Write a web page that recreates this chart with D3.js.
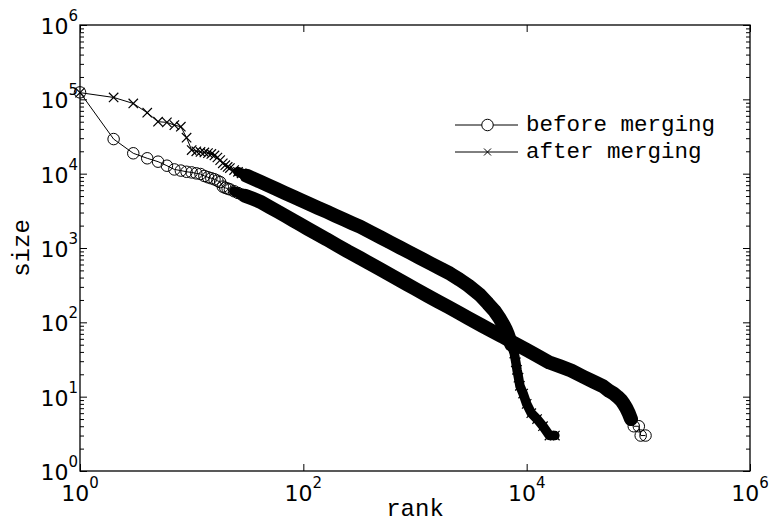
<!DOCTYPE html>
<html><head><meta charset="utf-8">
<script src="https://cdn.jsdelivr.net/npm/d3@7"></script>
<style>body{margin:0;background:#fff}</style>
</head><body>
<svg id="c" width="771" height="525"></svg>
<script>
// ---- data ----
const beforeRank = [1,2,3,4,5,6,7,8,9,10,11,12,13,14,15,16,17,18,19,20,21,22,24,26,28,30,35,41,50,60,70,81,93,110,130,162,200,250,322,400,500,600,734,850,1000,1300,1600,2000,2500,3000,4000,5000,6000,7000,8500,10000,12500,16000,20000,25000,32000,40000,48000,55000,60000,65000,70000,74000,78000,82000,86000,91000,101000,105000,116000];
const beforeSize = [124000,29200,18800,16100,14500,12800,11400,11000,10600,10400,10100,9890,9310,8940,8670,8400,8040,7700,6700,6450,6300,6150,5800,5500,5250,5060,4620,4200,3560,3050,2670,2360,2100,1810,1570,1310,1090,900,733,611,507,436,368,325,283,227,191,160,133,114,90,75,65,57,48.6,42.5,35.3,28.8,25.5,22.5,18.6,15.8,13.9,11.9,11,10,9,8,7,6,5,4,4,3,3];
const afterRank = [1,2,3,4,5,6,7,8,9,10,11,12,13,14,15,16,17,18,19,20,21,22,24,26,28,31,36,41,48,57,68,81,96,114,135,162,195,230,275,322,400,500,600,734,900,1100,1400,1700,2057,2500,3000,3820,4500,5200,5770,6200,6500,6800,7300,7750,8000,8200,8450,8700,9300,10000,11000,12400,14000,16000,17900];
const afterSize = [123000,106000,88000,66000,50000,49000,45000,42800,30500,20800,20000,19600,19300,18900,18400,17600,16500,15200,13800,13000,12300,11900,11200,10600,10100,9400,8500,7800,7020,6240,5530,4910,4380,3900,3470,3080,2710,2430,2150,1940,1633,1371,1189,1016,867,740,612,526,453,377,313,233,179,140,111,92,80,68,50,38,29,23,18,14,11,8,6,5,4,3,3];
const seriesNames = ["before merging", "after merging"];
const xTickValues = [1, 100, 10000, 1000000];
const xTickExp = ["0", "2", "4", "6"];
const yTickValues = [1, 10, 100, 1000, 10000, 100000, 1000000];
const yTickExp = ["0", "1", "2", "3", "4", "5", "6"];
const xLabel = "rank";
const yLabel = "size";
// overplotted-marker bands: [fromRank, toRank, width]
const beforeBands = [[24, 35, 10], [30, 86000, 14]];
const afterBands = [[26, 36, 10], [31, 7300, 14], [7300, 17900, 9.5]];

// ---- layout ----
const L = 80, R = 750, T = 25, B = 471;
const svg = d3.select("#c");
svg.append("rect").attr("width", 771).attr("height", 525).attr("fill", "#fff");
const x = d3.scaleLog().domain([1, 1e6]).range([L, R]);
const y = d3.scaleLog().domain([1, 1e6]).range([B, T]);

const minorY = [];
for (let e = 0; e < 6; e++) for (let m = 2; m <= 9; m++) minorY.push(m * Math.pow(10, e));

function styleAxis(g) {
  g.select(".domain").remove();
  g.selectAll(".tick line").attr("stroke", "#000").attr("stroke-width", 1);
  g.selectAll(".tick text").remove();
}
svg.append("g").attr("transform", `translate(0,${B})`)
  .call(d3.axisBottom(x).tickValues(xTickValues).tickSize(-7).tickFormat("")).call(styleAxis);
svg.append("g").attr("transform", `translate(0,${T})`)
  .call(d3.axisTop(x).tickValues(xTickValues).tickSize(-7).tickFormat("")).call(styleAxis);
svg.append("g").attr("transform", `translate(${L},0)`)
  .call(d3.axisLeft(y).tickValues(yTickValues).tickSize(-7).tickFormat("")).call(styleAxis);
svg.append("g").attr("transform", `translate(${L},0)`)
  .call(d3.axisLeft(y).tickValues(minorY).tickSize(-4).tickFormat("")).call(styleAxis);
svg.append("g").attr("transform", `translate(${R},0)`)
  .call(d3.axisRight(y).tickValues(yTickValues).tickSize(-7).tickFormat("")).call(styleAxis);
svg.append("g").attr("transform", `translate(${R},0)`)
  .call(d3.axisRight(y).tickValues(minorY).tickSize(-4).tickFormat("")).call(styleAxis);

// tick labels with superscripts
xTickValues.forEach((v, i) => {
  const t = svg.append("text").attr("x", x(v)).attr("y", B + 30)
    .attr("text-anchor", "middle").attr("font-family", "DejaVu Sans").attr("fill", "#000");
  t.append("tspan").attr("font-size", 22).text("10");
  t.append("tspan").attr("font-size", 15).attr("dy", -13).text(xTickExp[i]);
});
yTickValues.forEach((v, i) => {
  const t = svg.append("text").attr("x", 78).attr("y", y(v) + 9)
    .attr("text-anchor", "end").attr("font-family", "DejaVu Sans").attr("fill", "#000");
  t.append("tspan").attr("font-size", 22).text("10");
  t.append("tspan").attr("font-size", 15).attr("dy", -13).text(yTickExp[i]);
});

// axis labels
svg.append("text").attr("x", (L + R) / 2).attr("y", 516).attr("text-anchor", "middle")
  .attr("font-family", "Liberation Mono, monospace").attr("font-size", 24).text(xLabel);
svg.append("text").attr("transform", `translate(29,${(T + B) / 2}) rotate(-90)`).attr("text-anchor", "middle")
  .attr("font-family", "Liberation Mono, monospace").attr("font-size", 24).text(yLabel);

// ---- series ----
const before = beforeRank.map((r, i) => [r, beforeSize[i]]);
const after = afterRank.map((r, i) => [r, afterSize[i]]);
const line = d3.line().x(d => x(d[0])).y(d => y(d[1]));
const CR = 5.75, XS = 4.7;

function drawSeries(data, bands, marker) {
  const g = svg.append("g");
  g.append("path").attr("d", line(data)).attr("fill", "none").attr("stroke", "#000").attr("stroke-width", 1);
  bands.forEach(([a, b, w]) => {
    const band = data.filter(d => d[0] >= a && d[0] <= b);
    g.append("path").attr("d", line(band)).attr("fill", "none").attr("stroke", "#000")
      .attr("stroke-width", w).attr("stroke-linejoin", "round").attr("stroke-linecap", "round");
  });
  if (marker === "o") {
    g.selectAll("circle").data(data).join("circle")
      .attr("cx", d => x(d[0])).attr("cy", d => y(d[1])).attr("r", CR)
      .attr("fill", "none").attr("stroke", "#000").attr("stroke-width", 1);
  } else {
    g.selectAll("path.m").data(data).join("path").attr("class", "m")
      .attr("d", d => { const cx = x(d[0]), cy = y(d[1]);
        return `M${cx - XS},${cy - XS}L${cx + XS},${cy + XS}M${cx - XS},${cy + XS}L${cx + XS},${cy - XS}`; })
      .attr("fill", "none").attr("stroke", "#000").attr("stroke-width", 1.2);
  }
}
drawSeries(before, beforeBands, "o");
drawSeries(after, afterBands, "x");

// ---- legend ----
const lg = svg.append("g");
const rows = [125, 152];
lg.append("line").attr("x1", 455).attr("x2", 487.5 - CR).attr("y1", rows[0]).attr("y2", rows[0]).attr("stroke", "#000");
lg.append("line").attr("x1", 487.5 + CR).attr("x2", 518).attr("y1", rows[0]).attr("y2", rows[0]).attr("stroke", "#000");
lg.append("circle").attr("cx", 487.5).attr("cy", rows[0]).attr("r", CR).attr("fill", "none").attr("stroke", "#000");
lg.append("line").attr("x1", 455).attr("x2", 518).attr("y1", rows[1]).attr("y2", rows[1]).attr("stroke", "#000");
lg.append("path").attr("d", `M${487.5 - 3.5},${rows[1] - 3.5}L${487.5 + 3.5},${rows[1] + 3.5}M${487.5 - 3.5},${rows[1] + 3.5}L${487.5 + 3.5},${rows[1] - 3.5}`)
  .attr("stroke", "#000").attr("fill", "none");
seriesNames.forEach((n, i) => {
  lg.append("text").attr("x", 526).attr("y", rows[i] + 6).attr("font-family", "Liberation Mono, monospace")
    .attr("font-size", 22.5).attr("fill", "#000").text(n);
});

// frame
svg.append("rect").attr("x", L).attr("y", T).attr("width", R - L).attr("height", B - T)
  .attr("fill", "none").attr("stroke", "#000").attr("stroke-width", 1.3);
</script>
</body></html>
